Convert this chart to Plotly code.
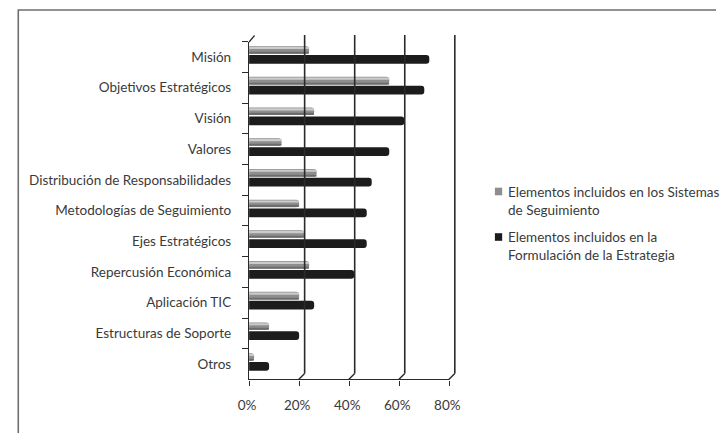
import plotly.graph_objects as go

# Categories (top to bottom) and shares for each series
categories = [
    "Misión",
    "Objetivos Estratégicos",
    "Visión",
    "Valores",
    "Distribución de Responsabilidades",
    "Metodologías de Seguimiento",
    "Ejes Estratégicos",
    "Repercusión Económica",
    "Aplicación TIC",
    "Estructuras de Soporte",
    "Otros",
]
seguimiento = [0.24, 0.56, 0.26, 0.13, 0.27, 0.20, 0.22, 0.24, 0.20, 0.08, 0.02]
formulacion = [0.72, 0.70, 0.62, 0.56, 0.49, 0.47, 0.47, 0.42, 0.26, 0.20, 0.08]

series_names = [
    "Elementos incluidos en los Sistemas de Seguimiento",
    "Elementos incluidos en la Formulación de la Estrategia",
]
legend_lines = [
    "Elementos incluidos en los Sistemas<br>de Seguimiento",
    "Elementos incluidos en la<br>Formulación de la Estrategia",
]
x_ticks = [0, 0.2, 0.4, 0.6, 0.8]
x_tick_text = ["0%", "20%", "40%", "60%", "80%"]
x_max = 0.8

W, H = 727, 433
FONT = "Lato"
TXT = "#3a3a3a"
LINE = "#2a2a2a"

def px_x(p):
    return p / W

def px_y(p):
    return 1 - p / H

x_dom = [px_x(245.5), px_x(452.0)]
y_dom = [px_y(379.4), px_y(41.7)]

fig = go.Figure()

# gray series: body, light top highlight, darker lower edge
fig.add_trace(go.Bar(
    y=categories, x=seguimiento, orientation="h", name=series_names[0],
    marker=dict(color="#8e8e8e", line=dict(width=0), cornerradius=3),
    offset=-0.355, width=0.245, showlegend=False,
))
fig.add_trace(go.Bar(
    y=categories, x=seguimiento, orientation="h", name=series_names[0],
    marker=dict(color="#cbcbcb", line=dict(width=0), cornerradius=1),
    offset=-0.33, width=0.07, showlegend=False, hoverinfo="skip",
))
fig.add_trace(go.Bar(
    y=categories, x=seguimiento, orientation="h", name=series_names[0],
    marker=dict(color="#6c6c6c", line=dict(width=0), cornerradius=1),
    offset=-0.16, width=0.045, showlegend=False, hoverinfo="skip",
))
# black series
fig.add_trace(go.Bar(
    y=categories, x=formulacion, orientation="h", name=series_names[1],
    marker=dict(color="#1c1c1c", line=dict(width=0), cornerradius=3),
    offset=-0.065, width=0.285, showlegend=False,
))

shapes = []
# back-wall grid lines with their slanted floor segments (placed on the x axis domain)
for v in x_ticks[1:]:
    f = v / x_max
    shapes.append(dict(type="line", xref="x domain", yref="paper", xsizemode="pixel", xanchor=f,
                       x0=5.5, x1=5.5, y0=px_y(35), y1=px_y(373.5),
                       line=dict(color=LINE, width=1.6)))
    shapes.append(dict(type="line", xref="x domain", yref="paper", xsizemode="pixel", xanchor=f,
                       x0=5.5, x1=-0.5, y0=px_y(373.5), y1=px_y(379.4),
                       line=dict(color=LINE, width=1.4)))
# corner at the top of the category axis
shapes.append(dict(type="line", xref="x domain", yref="paper", xsizemode="pixel", xanchor=0,
                   x0=0, x1=5.5, y0=px_y(42), y1=px_y(35.5),
                   line=dict(color=LINE, width=1.2)))
# outer frame (top and left edges)
shapes.append(dict(type="path", xref="paper", yref="paper",
                   path=f"M {px_x(727)},{px_y(10)} L {px_x(7.5)},{px_y(10)} L {px_x(7.5)},{px_y(433)}",
                   line=dict(color="#6e6e6e", width=1.6)))
# legend keys
key_colors = ["#8e8e8e", "#1c1c1c"]
key_centers = [191.5, 237.0]
for c, yc in zip(key_colors, key_centers):
    shapes.append(dict(type="rect", xref="paper", yref="paper",
                       x0=px_x(499), x1=px_x(506.5), y0=px_y(yc + 3.8), y1=px_y(yc - 3.8),
                       fillcolor=c, line=dict(width=0)))

annotations = []
text_centers = [201.0, 246.0]
for t, yc in zip(legend_lines, text_centers):
    annotations.append(dict(xref="paper", yref="paper", x=px_x(510.5), y=px_y(yc),
                            xanchor="left", yanchor="middle", align="left", showarrow=False,
                            text=t, font=dict(family=FONT, size=13.5, color=TXT)))

fig.update_layout(
    width=W, height=H,
    margin=dict(l=0, r=0, t=0, b=0),
    paper_bgcolor="white", plot_bgcolor="white",
    barmode="overlay",
    showlegend=False,
    shapes=shapes,
    annotations=annotations,
    font=dict(family=FONT, size=13.5, color=TXT),
    xaxis=dict(
        domain=x_dom, range=[0, x_max], tickvals=x_ticks, ticktext=x_tick_text,
        showgrid=False, zeroline=False, showline=True, linecolor=LINE, linewidth=1.4,
        ticks="outside", ticklen=5, tickcolor=LINE, tickwidth=1.2,
        ticklabelstandoff=8, ticklabelshift=-2,
        tickfont=dict(family=FONT, size=13.5, color=TXT),
    ),
    yaxis=dict(
        domain=y_dom, categoryorder="array", categoryarray=categories, autorange="reversed",
        showgrid=False, zeroline=False, showline=True, linecolor=LINE, linewidth=1.4,
        ticks="outside", ticklen=6, tickcolor=LINE, tickwidth=1.2, tickson="boundaries",
        ticklabelstandoff=14,
        tickfont=dict(family=FONT, size=13.5, color=TXT),
    ),
)

fig.write_html("out.html")
